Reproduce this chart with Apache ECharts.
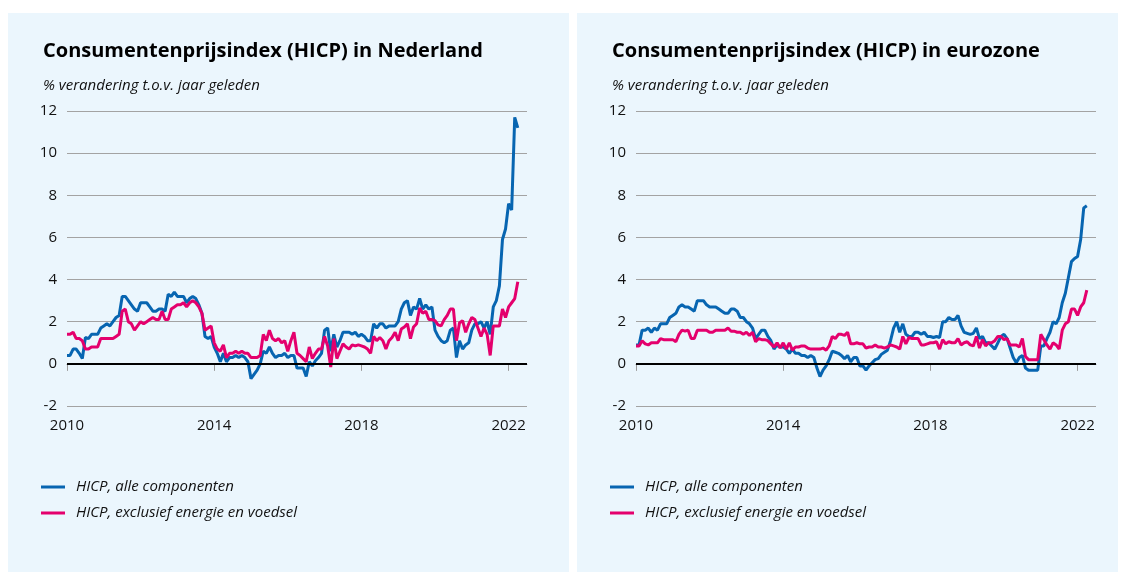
<!DOCTYPE html>
<html>
<head>
<meta charset="utf-8">
<title>HICP Nederland en eurozone</title>
<script src="https://cdn.jsdelivr.net/npm/echarts@6/dist/echarts.min.js"></script>
<style>
  html, body { margin: 0; padding: 0; background: #ffffff; }
  #chart { width: 1131px; height: 572px; }
</style>
</head>
<body>
<div id="chart"></div>
<script>
// maandelijkse jaar-op-jaar mutaties, jan 2010 t/m apr 2022
var startYear = 2010;
var yearTicks = [2010, 2014, 2018, 2022];
var seriesNames = ['HICP, alle componenten', 'HICP, exclusief energie en voedsel'];
var panelTitles = ['Consumentenprijsindex (HICP) in Nederland', 'Consumentenprijsindex (HICP) in eurozone'];
var subTitle = '% verandering t.o.v. jaar geleden';

var nlTotal = [
  0.4, 0.4, 0.7, 0.7, 0.5, 0.25, 1.25, 1.2, 1.4, 1.4, 1.4, 1.7,
  1.8, 1.9, 1.8, 2.0, 2.2, 2.3, 3.2, 3.2, 3.0, 2.8, 2.6, 2.5,
  2.9, 2.9, 2.9, 2.7, 2.5, 2.5, 2.6, 2.6, 2.5, 3.3, 3.2, 3.4,
  3.2, 3.2, 3.2, 2.9, 3.1, 3.2, 3.1, 2.8, 2.4, 1.3, 1.2, 1.3,
  0.8, 0.5, 0.1, 0.5, 0.1, 0.3, 0.3, 0.4, 0.3, 0.4, 0.3, 0.1,
  -0.7, -0.5, -0.3, 0.0, 0.6, 0.5, 0.8, 0.5, 0.3, 0.4, 0.4, 0.5,
  0.3, 0.4, 0.4, -0.2, -0.2, -0.2, -0.6, 0.1, -0.1, 0.15, 0.3, 0.5,
  1.6, 1.7, 0.6, 1.4, 0.8, 1.1, 1.5, 1.5, 1.5, 1.4, 1.5, 1.3,
  1.4, 1.3, 1.1, 1.1, 1.9, 1.7, 1.9, 1.9, 1.7, 1.8, 1.8, 1.8,
  2.0, 2.6, 2.9, 3.0, 2.3, 2.7, 2.6, 3.1, 2.6, 2.8, 2.6, 2.7,
  1.6, 1.3, 1.1, 1.0, 1.1, 1.6, 1.7, 0.3, 1.1, 0.7, 0.9, 1.0,
  1.6, 1.9, 1.9, 2.0, 1.7, 2.0, 1.4, 2.7, 3.0, 3.7, 5.9, 6.4,
  7.6, 7.3, 11.7, 11.2
];
var nlCore = [
  1.4, 1.4, 1.5, 1.2, 1.2, 1.1, 0.7, 0.7, 0.8, 0.8, 0.8, 1.2,
  1.2, 1.2, 1.2, 1.2, 1.3, 1.4, 2.5, 2.6, 2.0, 1.9, 1.6, 1.8,
  2.0, 1.9, 2.0, 2.1, 2.2, 2.1, 2.1, 2.5, 2.1, 2.1, 2.6, 2.7,
  2.8, 2.8, 2.9, 2.7, 2.9, 3.0, 2.9, 2.7, 2.4, 1.6, 1.7, 1.8,
  1.0, 0.7, 0.6, 0.9, 0.3, 0.5, 0.5, 0.6, 0.5, 0.6, 0.5, 0.5,
  0.3, 0.3, 0.3, 0.4, 1.4, 1.1, 1.6, 1.2, 1.1, 1.2, 1.0, 1.1,
  0.6, 1.1, 1.5, 0.5, 0.4, 0.25, 0.1, 0.8, 0.25, 0.5, 0.7, 0.7,
  1.3, 0.85, -0.15, 1.2, 0.25, 0.6, 0.95, 0.8, 0.7, 0.9, 0.85, 0.9,
  0.85, 0.8, 0.7, 0.5, 1.3, 1.1, 1.25, 1.1, 0.7, 1.1, 1.25, 1.5,
  1.1, 1.65, 1.75, 1.9, 1.2, 1.75, 1.9, 2.65, 2.4, 2.5, 2.1, 2.1,
  2.05, 1.85, 1.8, 2.1, 2.3, 2.6, 2.6, 1.1, 1.95, 2.05, 1.5, 1.9,
  2.2, 2.1, 1.7, 1.3, 1.7, 1.4, 0.4, 1.8, 1.8, 1.8, 2.6, 2.2,
  2.7, 2.9, 3.1, 3.9
];
var euTotal = [
  0.9, 0.9, 1.6, 1.6, 1.7, 1.5, 1.7, 1.6, 1.9, 1.9, 1.9, 2.2,
  2.3, 2.4, 2.7, 2.8, 2.7, 2.7, 2.6, 2.5, 3.0, 3.0, 3.0, 2.8,
  2.7, 2.7, 2.7, 2.6, 2.5, 2.4, 2.4, 2.6, 2.6, 2.5, 2.2, 2.2,
  2.0, 1.9, 1.7, 1.2, 1.4, 1.6, 1.6, 1.3, 1.1, 0.7, 0.9, 0.8,
  0.8, 0.7, 0.5, 0.7, 0.5, 0.5, 0.4, 0.4, 0.3, 0.4, 0.3, -0.2,
  -0.6, -0.3, -0.1, 0.2, 0.6, 0.55, 0.5, 0.4, 0.25, 0.4, 0.1, 0.3,
  0.3, -0.1, -0.1, -0.3, -0.1, 0.05, 0.2, 0.25, 0.45, 0.55, 0.65, 1.1,
  1.7, 2.0, 1.5, 1.9, 1.4, 1.3, 1.3, 1.5, 1.5, 1.4, 1.5, 1.3,
  1.3, 1.25, 1.3, 1.25, 2.0, 2.0, 2.2, 2.1, 2.1, 2.3, 1.8, 1.5,
  1.45, 1.4, 1.45, 1.7, 1.2, 1.3, 1.0, 1.0, 0.85, 0.7, 1.0, 1.3,
  1.4, 1.2, 0.75, 0.3, 0.05, 0.3, 0.4, -0.2, -0.3, -0.3, -0.3, -0.3,
  0.85, 0.85, 1.2, 1.5, 2.0, 1.9, 2.2, 2.9, 3.35, 4.1, 4.85, 5.0,
  5.1, 5.9, 7.4, 7.5
];
var euCore = [
  0.85, 0.85, 1.1, 0.95, 0.9, 1.0, 1.0, 1.0, 1.2, 1.15, 1.15, 1.15,
  1.15, 1.05, 1.4, 1.6, 1.55, 1.6, 1.2, 1.2, 1.6, 1.6, 1.6, 1.6,
  1.5, 1.5, 1.6, 1.6, 1.6, 1.6, 1.7, 1.55, 1.55, 1.5, 1.5, 1.4,
  1.5, 1.35, 1.5, 1.05, 1.2, 1.15, 1.15, 1.1, 0.95, 0.8, 1.0, 0.75,
  1.0, 0.7, 1.0, 0.65, 0.8, 0.8, 0.85, 0.85, 0.75, 0.7, 0.7, 0.7,
  0.7, 0.75, 0.65, 0.85, 1.3, 1.2, 1.4, 1.4, 1.35, 1.5, 0.95, 0.95,
  1.0, 0.95, 0.95, 0.75, 0.8, 0.8, 0.9, 0.8, 0.8, 0.75, 0.8, 0.9,
  0.85, 0.8, 0.7, 1.3, 0.95, 1.25, 1.2, 1.2, 1.2, 0.9, 0.9, 0.95,
  1.0, 1.0, 1.05, 0.7, 1.15, 0.95, 1.05, 1.0, 1.0, 1.2, 0.9, 1.0,
  1.05, 0.9, 0.85, 1.3, 0.75, 1.15, 0.85, 1.0, 1.0, 1.1, 1.3, 1.3,
  1.15, 1.2, 0.9, 0.9, 0.9, 0.8, 1.2, 0.35, 0.2, 0.2, 0.2, 0.2,
  1.4, 1.15, 0.9, 0.7, 1.0, 0.9, 0.7, 1.6, 1.9, 2.0, 2.6, 2.6,
  2.3, 2.7, 2.9, 3.5
];

var blauw = '#0765b1';
var roze = '#e4006d';
var achtergrond = '#ebf6fd';
var font = 'Open Sans';

function toPoints(values) {
  return values.map(function (v, i) { return [startYear + i / 12, v]; });
}

var chart = echarts.init(document.getElementById('chart'));

function xAxis(idx) {
  return {
    type: 'value', gridIndex: idx, min: 2010, max: 2022.5,
    axisLine: { show: true, lineStyle: { color: '#9b9b9b', width: 1 } },
    axisTick: { show: true, customValues: yearTicks, length: 7, lineStyle: { color: '#9b9b9b' } },
    axisLabel: {
      customValues: yearTicks, color: '#111', fontSize: 15, fontFamily: font, margin: 12,
      formatter: function (v) { return String(v); }
    },
    splitLine: { show: false }
  };
}
function yAxis(idx) {
  return {
    type: 'value', gridIndex: idx, min: -2, max: 12, interval: 2,
    axisLine: { show: false }, axisTick: { show: false },
    axisLabel: { color: '#111', fontSize: 15, fontFamily: font, margin: 10 },
    splitLine: { lineStyle: { color: '#a3a3a3', width: 1 } }
  };
}
function lineSeries(name, values, color, idx, zeroLine) {
  var s = {
    name: name, type: 'line', xAxisIndex: idx, yAxisIndex: idx,
    data: toPoints(values), showSymbol: false, symbol: 'none',
    lineStyle: { color: color, width: 3 }, itemStyle: { color: color },
    animation: false
  };
  if (zeroLine) {
    s.markLine = {
      silent: true, symbol: 'none', label: { show: false },
      lineStyle: { color: '#000', width: 2, type: 'solid' },
      data: [{ yAxis: 0 }]
    };
  }
  return s;
}
function legend(left) {
  return {
    orient: 'vertical', left: left, top: 479, padding: 0, itemWidth: 24, itemHeight: 3,
    itemGap: 10, icon: 'rect', data: seriesNames,
    textStyle: { fontSize: 15, fontStyle: 'italic', fontFamily: font, color: '#111', lineHeight: 16, padding: [0, 0, 0, 6] }
  };
}
function title(left, text) {
  return {
    text: text, subtext: subTitle, left: left, top: 41, padding: 0, itemGap: 17,
    textStyle: { fontSize: 20, fontWeight: 'bold', fontFamily: font, color: '#000' },
    subtextStyle: { fontSize: 15, fontStyle: 'italic', fontFamily: font, color: '#111' }
  };
}

var option = {
  animation: false,
  graphic: [
    { type: 'rect', silent: true, z: -10, shape: { x: 8, y: 13, width: 561, height: 560 }, style: { fill: achtergrond } },
    { type: 'rect', silent: true, z: -10, shape: { x: 577, y: 13, width: 541, height: 560 }, style: { fill: achtergrond } }
  ],
  title: [title(43, panelTitles[0]), title(612, panelTitles[1])],
  legend: [legend(41), legend(610)],
  grid: [
    { left: 67, top: 111, width: 460, height: 295 },
    { left: 636, top: 111, width: 460, height: 295 }
  ],
  xAxis: [xAxis(0), xAxis(1)],
  yAxis: [yAxis(0), yAxis(1)],
  series: [
    lineSeries(seriesNames[0], nlTotal, blauw, 0, true),
    lineSeries(seriesNames[1], nlCore, roze, 0, false),
    lineSeries(seriesNames[0], euTotal, blauw, 1, true),
    lineSeries(seriesNames[1], euCore, roze, 1, false)
  ]
};

chart.setOption(option);
</script>
</body>
</html>
